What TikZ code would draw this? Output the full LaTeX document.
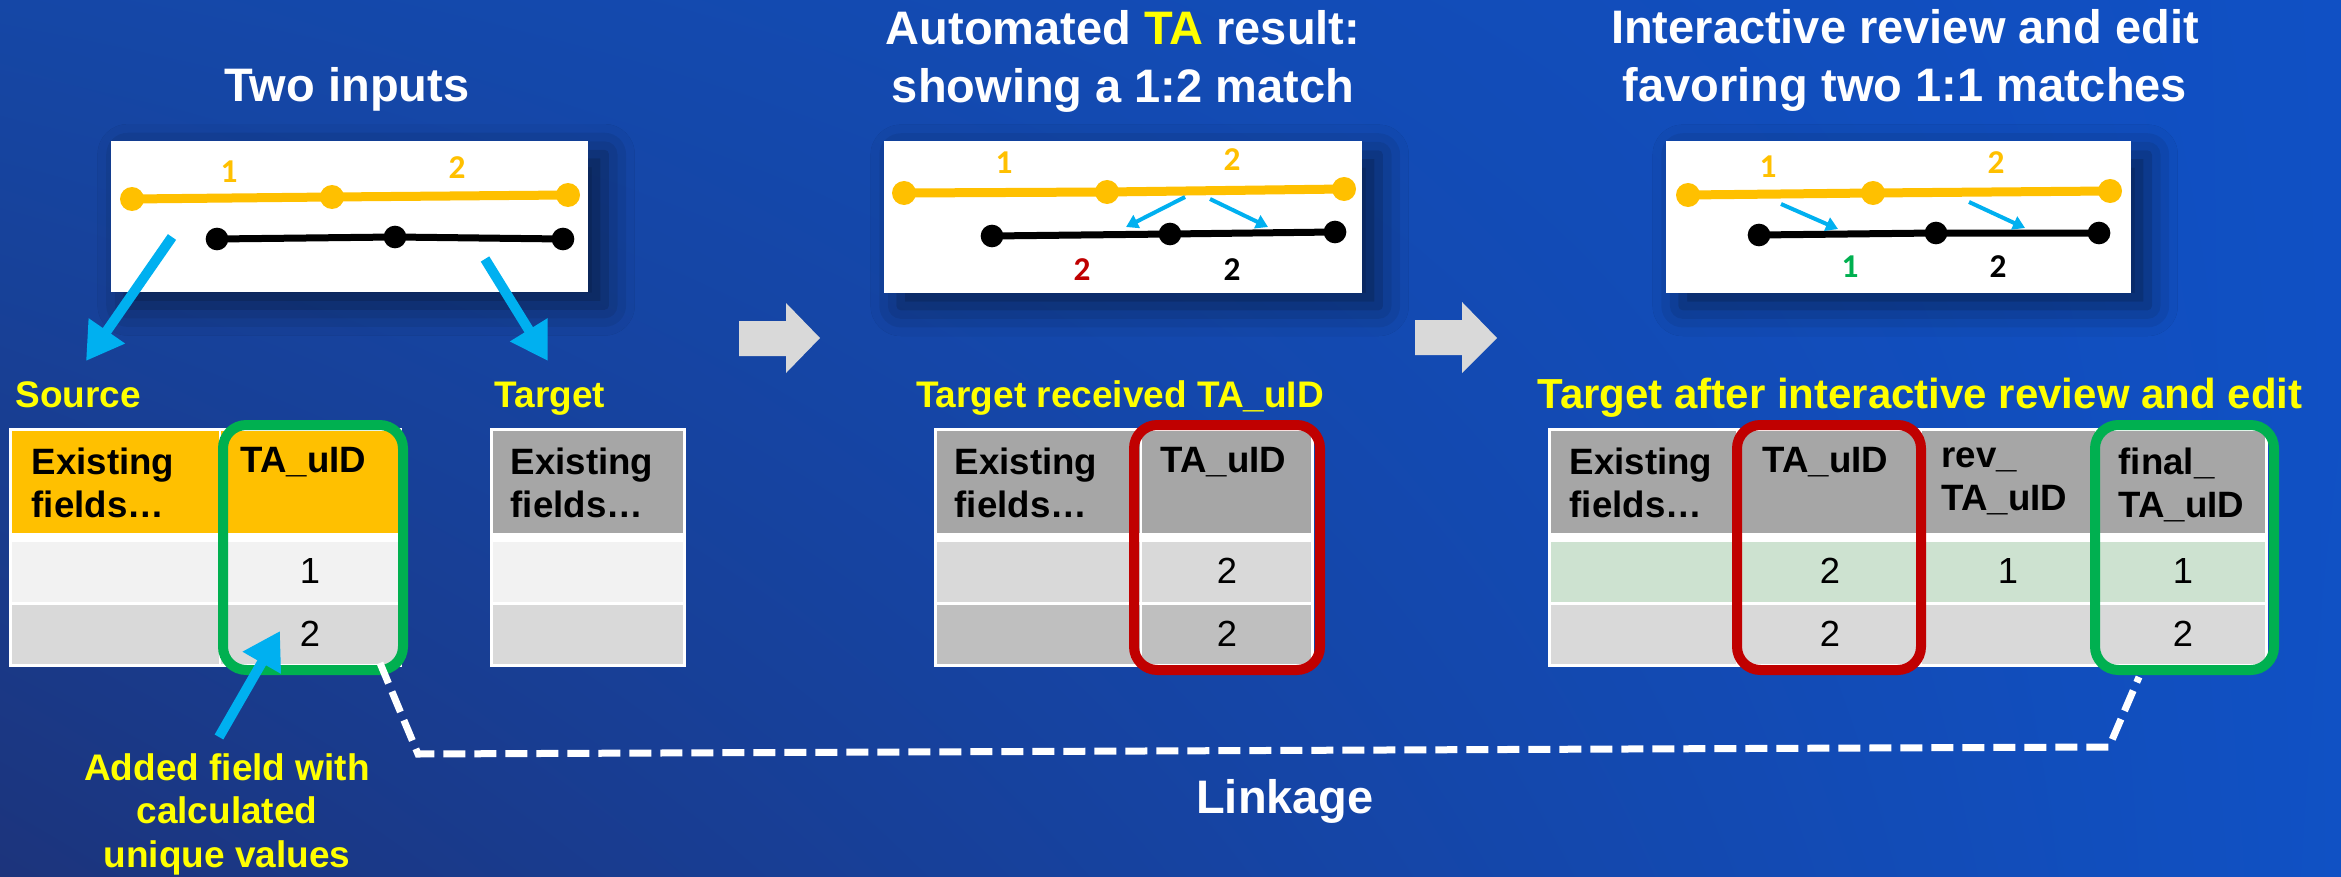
\documentclass[tikz,border=0pt]{standalone}
\usepackage{fontspec}
\setmainfont{Liberation Sans}
\newfontfamily\calfont{Carlito}
\usetikzlibrary{arrows.meta,shadows.blur,shadings}

\definecolor{bgUL}{HTML}{1547A6}
\definecolor{bgUR}{HTML}{1050C4}
\definecolor{bgLL}{HTML}{1C347C}
\definecolor{bgLR}{HTML}{1051C4}
\definecolor{tagyellow}{HTML}{FFFF00}
\definecolor{segorange}{HTML}{FFC000}
\definecolor{linkblue}{HTML}{00B0F0}
\definecolor{okgreen}{HTML}{00B050}
\definecolor{badred}{HTML}{C00000}
\definecolor{hdrgray}{HTML}{A6A6A6}
\definecolor{rowlight}{HTML}{F2F2F2}
\definecolor{rowmid}{HTML}{D9D9D9}
\definecolor{rowdark}{HTML}{BFBFBF}
\definecolor{rowgreen}{HTML}{CDE2D0}
\definecolor{flowgray}{HTML}{D9D9D9}

\newcommand\tcell[5]{\fill[#1] (#2,#3) rectangle (#4,#5);}

\tikzset{
  title/.style={text=white, font=\fontsize{14.1}{17.4}\selectfont\bfseries, align=center, inner sep=0},
  tag/.style={text=tagyellow, font=\fontsize{11.1}{13}\selectfont\bfseries, inner sep=0},
  hdr/.style={font=\fontsize{11}{12.9}\selectfont\bfseries, align=left, inner sep=0, anchor=north west},
  num/.style={font=\fontsize{10.9}{13}\selectfont, inner sep=0},
  seglabel/.style={font=\calfont\fontsize{10}{12}\selectfont\bfseries, inner sep=0},
  picbox/.style={fill=white, inner sep=0, minimum height=45.4pt,
    blur shadow={shadow xshift=5pt, shadow yshift=-4pt, shadow blur radius=9pt,
      shadow opacity=55}},
  ring/.style={rounded corners=7pt, line width=3pt, inner sep=0, minimum height=73.5pt},
  bigarrow/.style={line width=3pt, draw=linkblue, -{Triangle[length=11pt,width=12.5pt]}},
  smallarrow/.style={line width=1.2pt, draw=linkblue, -{Triangle[length=3.6pt,width=4.2pt]}},
  orangeline/.style={line width=2.7pt, draw=segorange},
  blackline/.style={line width=2.1pt, draw=black},
  odot/.style={fill=segorange},
  kdot/.style={fill=black},
  linkline/.style={draw=white, line width=2.1pt, dash pattern=on 6.6pt off 2.7pt},
}

\begin{document}
\begin{tikzpicture}[x=0.3pt, y=-0.3pt]
\useasboundingbox (0,0) rectangle (2341,876);
% backdrop
\shade[upper left=bgUL, upper right=bgUR, lower left=bgLL, lower right=bgLR]
  (0,0) rectangle (2341,876);

% ---------- headings ----------
\node[title, anchor=base] (t1) at (347,102) {Two inputs};
\node[title, anchor=north] (t2) at (1123,10)
  {Automated \textcolor{tagyellow}{TA} result:\\showing a 1:2 match};
\node[title, anchor=north] (t3) at (1905,9)
  {Interactive review and edit\\favoring two 1:1 matches};

% ---------- segment sketches ----------
\node[picbox, minimum width=143.1pt] (box1) at (349.5,216.5) {};
\node[picbox, minimum width=143.4pt] (box2) at (1123,217) {};
\node[picbox, minimum width=139.5pt] (box3) at (1898.5,217) {};

% box 1
\draw[orangeline] (132,199) -- (332,197) -- (568,195);
\foreach \p in {(132,199),(332,197),(568,195)} \fill[odot] \p circle[radius=3.6pt];
\draw[blackline] (217,239) -- (395,237) -- (563,239);
\foreach \p in {(217,239),(395,237),(563,239)} \fill[kdot] \p circle[radius=3.4pt];
\node[seglabel, text=segorange] (b1o1) at (229,172) {1};
\node[seglabel, text=segorange] (b1o2) at (457,168) {2};

% box 2
\draw[orangeline] (904,193) -- (1107,192) -- (1344,189);
\foreach \p in {(904,193),(1107,192),(1344,189)} \fill[odot] \p circle[radius=3.6pt];
\draw[blackline] (992,236) -- (1170,234) -- (1335,232);
\foreach \p in {(992,236),(1170,234),(1335,232)} \fill[kdot] \p circle[radius=3.4pt];
\node[seglabel, text=segorange] (b2o1) at (1004,163) {1};
\node[seglabel, text=segorange] (b2o2) at (1232,160) {2};
\node[seglabel, text=badred] (b2k1) at (1082,270) {2};
\node[seglabel, text=black] (b2k2) at (1232,270) {2};
\coordinate (m2a) at (1185,197);
\coordinate (m2b) at (1126,227);
\coordinate (m2c) at (1210,199);
\coordinate (m2d) at (1268,227);
\draw[smallarrow] (m2a) -- (m2b);
\draw[smallarrow] (m2c) -- (m2d);

% box 3
\draw[orangeline] (1688,195) -- (1873,193) -- (2110,191);
\foreach \p in {(1688,195),(1873,193),(2110,191)} \fill[odot] \p circle[radius=3.6pt];
\draw[blackline] (1759,235) -- (1936,233) -- (2099,233);
\foreach \p in {(1759,235),(1936,233),(2099,233)} \fill[kdot] \p circle[radius=3.4pt];
\node[seglabel, text=segorange] (b3o1) at (1768,167) {1};
\node[seglabel, text=segorange] (b3o2) at (1996,163) {2};
\node[seglabel, text=okgreen] (b3k1) at (1850,267) {1};
\node[seglabel, text=black] (b3k2) at (1998,267) {2};
\coordinate (m3a) at (1781,204);
\coordinate (m3b) at (1838,229);
\coordinate (m3c) at (1969,202);
\coordinate (m3d) at (2025,228);
\draw[smallarrow] (m3a) -- (m3b);
\draw[smallarrow] (m3c) -- (m3d);

% ---------- step arrows ----------
\fill[flowgray] (739,321) -- (786,321) -- (786,303) -- (820,338) -- (786,373)
  -- (786,356) -- (739,356) -- cycle;
\fill[flowgray] (1415,320) -- (1462,320) -- (1462,302) -- (1497,338) -- (1462,373)
  -- (1462,355) -- (1415,355) -- cycle;

% ---------- table labels ----------
\node[tag, anchor=base west] (src) at (15,407) {Source};
\node[tag, anchor=base west] (tgt) at (494,407) {Target};
\node[tag, anchor=base] (tgt2) at (1120,407) {Target received TA\_uID};
\node[tag, anchor=base, font=\fontsize{12.6}{14}\selectfont\bfseries] (tgt3) at (1920,408)
  {Target after interactive review and edit};

% ---------- source table ----------
\fill[white] (9,428) rectangle (402,667);
\tcell{segorange}{12}{431}{219}{533}
\tcell{segorange}{221}{431}{399}{533}
\tcell{rowlight}{12}{542}{219}{602}
\tcell{rowlight}{221}{542}{399}{602}
\tcell{rowmid}{12}{605}{219}{664}
\tcell{rowmid}{221}{605}{399}{664}
\node[hdr] (s1h) at (31,447) {Existing\\fields…};
\node[hdr] (s2h) at (240,447) {TA\_uID};
\node[num] (s21) at (310,571) {1};
\node[num] (s22) at (310,634) {2};
\node[ring, draw=okgreen, minimum width=54pt] (g1) at (313,547.5) {};

% ---------- target table ----------
\fill[white] (490,428) rectangle (686,667);
\tcell{hdrgray}{493}{431}{683}{533}
\tcell{rowlight}{493}{542}{683}{602}
\tcell{rowmid}{493}{605}{683}{664}
\node[hdr] (t1h) at (510,447) {Existing\\fields…};

% ---------- target after automated TA ----------
\fill[white] (934,428) rectangle (1314,667);
\tcell{hdrgray}{937}{431}{1140}{533}
\tcell{hdrgray}{1142}{431}{1311}{533}
\tcell{rowmid}{937}{542}{1140}{602}
\tcell{rowmid}{1142}{542}{1311}{602}
\tcell{rowdark}{937}{605}{1140}{664}
\tcell{rowdark}{1142}{605}{1311}{664}
\node[hdr] (u1h) at (954,447) {Existing\\fields…};
\node[hdr] (u2h) at (1160,447) {TA\_uID};
\node[num] (u21) at (1227,571) {2};
\node[num] (u22) at (1227,634) {2};
\node[ring, draw=badred, minimum width=55.8pt] (r2) at (1227,547.5) {};

% ---------- target after review ----------
\fill[white] (1548,428) rectangle (2268,667);
\tcell{hdrgray}{1551}{431}{1736}{533}
\tcell{hdrgray}{1738}{431}{1920}{533}
\tcell{hdrgray}{1922}{431}{2095}{533}
\tcell{hdrgray}{2097}{431}{2265}{533}
\tcell{rowgreen}{1551}{542}{1736}{602}
\tcell{rowgreen}{1738}{542}{1920}{602}
\tcell{rowgreen}{1922}{542}{2095}{602}
\tcell{rowgreen}{2097}{542}{2265}{602}
\tcell{rowmid}{1551}{605}{1736}{664}
\tcell{rowmid}{1738}{605}{1920}{664}
\tcell{rowmid}{1922}{605}{2095}{664}
\tcell{rowmid}{2097}{605}{2265}{664}
\node[hdr] (v1h) at (1569,447) {Existing\\fields…};
\node[hdr] (v2h) at (1762,447) {TA\_uID};
\node[hdr] (v3h) at (1941,447) {rev\_\\TA\_uID};
\node[hdr] (v4h) at (2118,447) {final\_\\TA\_uID};
\node[num] (v21) at (1830,571) {2};
\node[num] (v22) at (1830,634) {2};
\node[num] (v31) at (2008,571) {1};
\node[num] (v41) at (2183,571) {1};
\node[num] (v42) at (2183,634) {2};
\node[ring, draw=badred, minimum width=55.2pt] (r3) at (1829,547.5) {};
\node[ring, draw=okgreen, minimum width=53.7pt] (g3) at (2184.5,547.5) {};

% ---------- pointers ----------
\coordinate (a1s) at (172,237);
\coordinate (a1e) at (86,361);
\coordinate (a2s) at (485,259);
\coordinate (a2e) at (548,361);
\coordinate (a3s) at (219,737);
\coordinate (a3e) at (280,631);
\draw[bigarrow] (a1s) -- (a1e);
\draw[bigarrow] (a2s) -- (a2e);
\draw[bigarrow] (a3s) -- (a3e);

\node[tag, anchor=north, align=center] (note) at (227,753)
  {Added field with\\calculated\\unique values};

% ---------- linkage ----------
\coordinate (k1) at (380,663);
\coordinate (k2) at (418,754);
\coordinate (k3) at (2109,747);
\coordinate (k4) at (2139,677);
\draw[linkline] (k1) -- (k2) -- (k3) -- (k4);
\node[title, anchor=base] (link) at (1285,813) {Linkage};
\end{tikzpicture}
\end{document}
